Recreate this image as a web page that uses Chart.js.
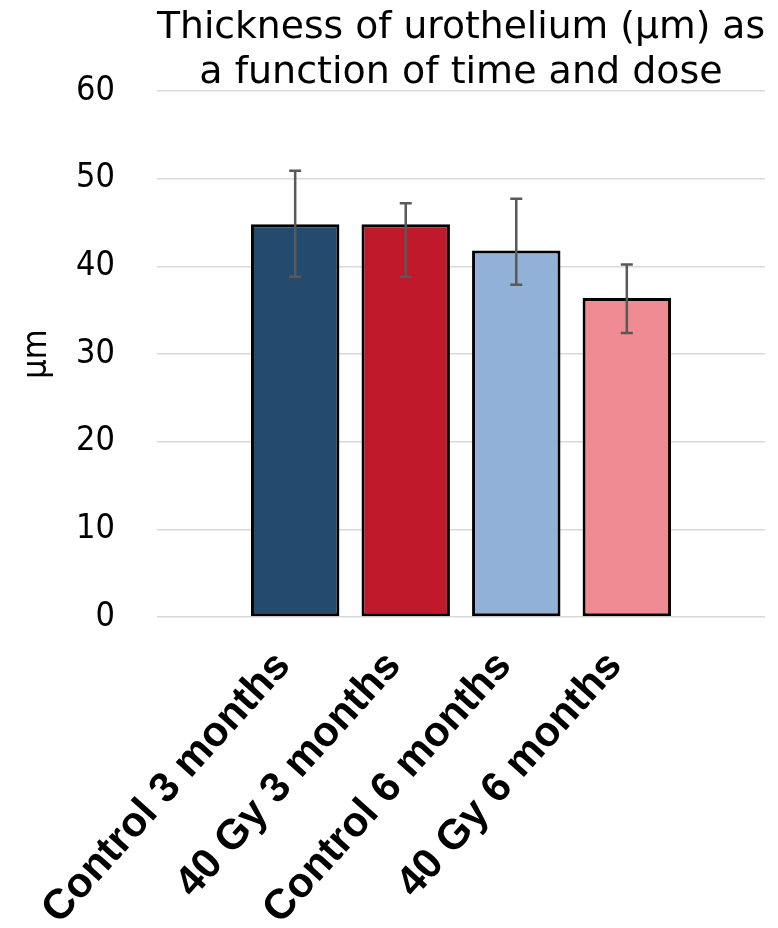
<!DOCTYPE html>
<html><head><meta charset="utf-8">
<script src="https://cdn.jsdelivr.net/npm/chart.js@4/dist/chart.umd.min.js"></script>
<style>html,body{margin:0;padding:0;background:#fff}</style>
</head><body>
<canvas id="c" width="778" height="928"></canvas>
<script>
// ---- data ----
const categories = ['Control 3 months', '40 Gy 3 months', 'Control 6 months', '40 Gy 6 months'];
const thickness = [44.8, 44.8, 41.8, 36.4];
const errUpper = [50.9, 47.2, 47.7, 40.2];
const errLower = [38.8, 38.8, 37.9, 32.4];
const yTicks = [0, 10, 20, 30, 40, 50, 60];
const titleLines = ['Thickness of urothelium (µm) as', 'a function of time and dose'];
const yTitle = 'µm';
const barColors = ['#244A6D', '#C0192B', '#92B1D8', '#EF8B93'];

const points = categories.map((c, i) => ({ x: i + 1, y: thickness[i] }));

const errorBars = {
  id: 'errorBars',
  afterDatasetsDraw(chart) {
    const meta = chart.getDatasetMeta(0);
    const ys = chart.scales.y;
    const ctx = chart.ctx;
    ctx.save();
    ctx.strokeStyle = '#595959';
    ctx.lineWidth = 2.5;
    meta.data.forEach((bar, i) => {
      const x = bar.x;
      const yt = ys.getPixelForValue(errUpper[i]);
      const yb = ys.getPixelForValue(errLower[i]);
      ctx.beginPath();
      ctx.moveTo(x, yt); ctx.lineTo(x, yb);
      ctx.moveTo(x - 6, yt); ctx.lineTo(x + 6, yt);
      ctx.moveTo(x - 6, yb); ctx.lineTo(x + 6, yb);
      ctx.stroke();
    });
    ctx.restore();
  }
};

new Chart(document.getElementById('c'), {
  type: 'bar',
  data: {
    datasets: [{
      data: points,
      backgroundColor: barColors,
      borderColor: '#000',
      borderWidth: 3,
      borderSkipped: false,
      barPercentage: 0.8,
      categoryPercentage: 1.0
    }]
  },
  options: {
    responsive: false,
    animation: false,
    devicePixelRatio: 1,
    layout: { padding: { left: 18, right: 13, top: 0, bottom: 0 } },
    plugins: {
      legend: { display: false },
      tooltip: { enabled: false },
      title: {
        display: true,
        fullSize: false,
        text: titleLines,
        color: '#000',
        font: { family: "'DejaVu Sans'", size: 38, weight: 'normal', lineHeight: 1.2 },
        padding: { top: 5, bottom: -5.2 }
      }
    },
    scales: {
      x: {
        type: 'linear',
        min: -0.25,
        max: 5.25,
        offset: false,
        afterBuildTicks(scale) { scale.ticks = categories.map((c, i) => ({ value: i + 1 })); },
        afterFit(scale) { scale.paddingLeft = 0; scale.paddingRight = 0; scale.height = 311; },
        grid: { display: false, drawTicks: false },
        border: { display: false },
        ticks: {
          autoSkip: false,
          minRotation: 48,
          maxRotation: 48,
          padding: 25,
          labelOffset: -12,
          color: '#000',
          font: { family: "'Liberation Sans', Arial", size: 42, weight: 'bold' },
          callback: (v) => categories[v - 1] || ''
        }
      },
      y: {
        min: 0,
        max: 60,
        afterBuildTicks(scale) { scale.ticks = yTicks.map(v => ({ value: v })); },
        afterFit(scale) { scale.width = 139; },
        grid: { color: '#D9D9D9', lineWidth: 1.5, drawTicks: false },
        border: { display: false },
        ticks: {
          padding: 42,
          color: '#000',
          font: { family: "'DejaVu Sans Condensed', 'DejaVu Sans'", size: 34 }
        },
        title: {
          display: true,
          text: yTitle,
          color: '#000',
          padding: { top: 0, bottom: 20 },
          font: { family: "'DejaVu Sans Condensed', 'DejaVu Sans'", size: 34, lineHeight: 1.13 }
        }
      }
    }
  },
  plugins: [errorBars]
});
</script>
</body></html>
